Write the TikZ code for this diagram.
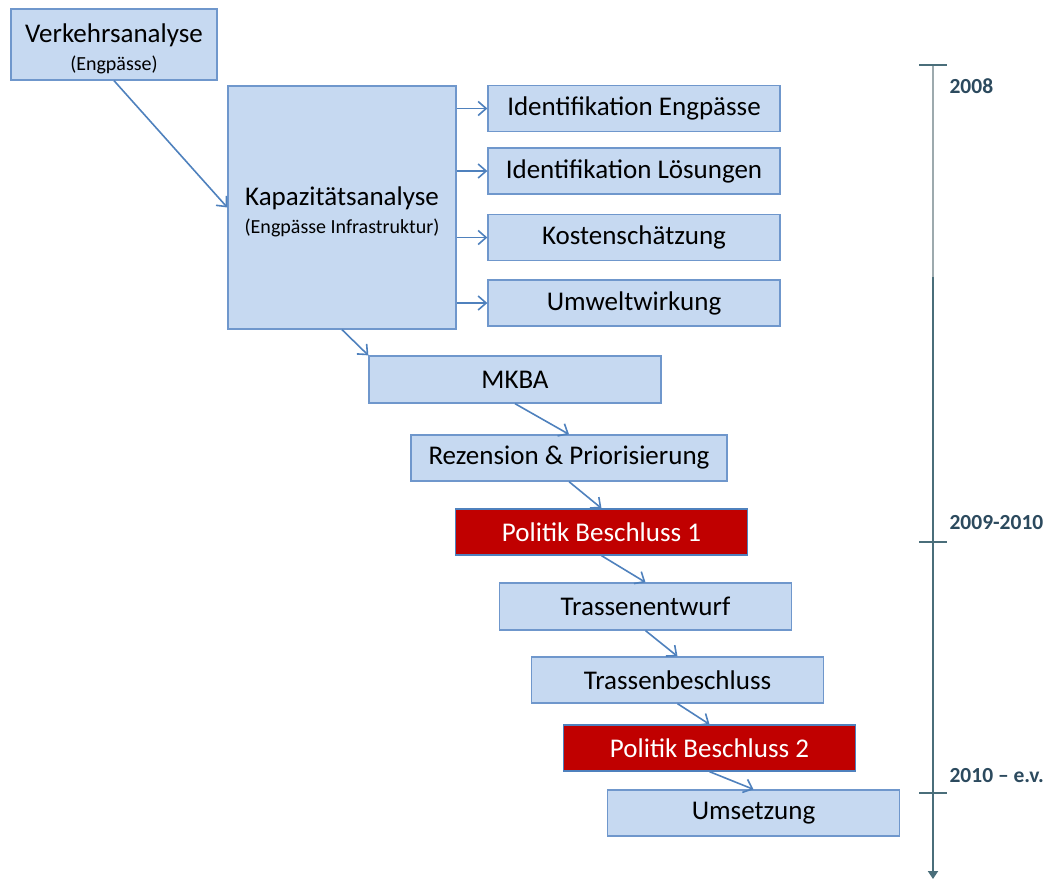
\documentclass[tikz,border=0pt]{standalone}
\usepackage{fontspec}
\setmainfont{Carlito}
\usetikzlibrary{arrows.meta}
\definecolor{boxfill}{HTML}{C6D9F1}
\definecolor{boxline}{HTML}{6F97CC}
\definecolor{arrowblue}{HTML}{4F81BD}
\definecolor{redfill}{HTML}{C00000}
\definecolor{timeline}{HTML}{4A6E7A}
\definecolor{timelight}{HTML}{9DAAAE}
\definecolor{yeartext}{HTML}{2C4A5E}
\tikzset{
  box/.style={draw=boxline, fill=boxfill, line width=1.3pt, inner sep=0pt,
    minimum width=292pt, minimum height=46pt, align=center,
    font=\fontsize{27}{31}\selectfont},
  redbox/.style={box, draw=arrowblue, fill=redfill, text=white},
  year/.style={anchor=west, text=yeartext, font=\fontsize{21.5}{24}\selectfont\bfseries},
}
\newcommand{\subtext}[1]{{\fontsize{20}{22}\selectfont #1}}

\begin{document}
\begin{tikzpicture}[x=1pt, y=-1pt, >={Straight Barb[length=8pt,width=14pt]}]
\useasboundingbox (0,0) rectangle (1051,880);

\node[box, minimum width=206pt, minimum height=71pt] (verkehr) at (114,44.5)
  {\rule{0pt}{28pt}Verkehrsanalyse\\[-3pt]\subtext{(Engpässe)}};
\node[box, minimum width=228pt, minimum height=243pt] (kap) at (342,207.5)
  {\rule{0pt}{28pt}Kapazitätsanalyse\\[-3pt]\subtext{(Engpässe Infrastruktur)}};

\node[box] (ideng) at (634,108.5) {Identifikation Engpässe};
\node[box] (idloes) at (634,171) {Identifikation Lösungen};
\node[box] (kosten) at (634,237.5) {Kostenschätzung};
\node[box] (umwelt) at (634,303) {Umweltwirkung};

\node[box, minimum height=47pt] (mkba) at (515,379.5) {MKBA};
\node[box, minimum width=316pt] (rez) at (569,458) {Rezension \& Priorisierung};
\node[redbox] (pb1) at (601.5,532) {Politik Beschluss 1};
\node[box, minimum height=47pt] (entwurf) at (645.5,606.5) {Trassenentwurf};
\node[box] (tbeschl) at (677.5,680) {Trassenbeschluss};
\node[redbox] (pb2) at (709.5,748) {Politik Beschluss 2};
\node[box] (umsetz) at (753.5,813) {Umsetzung};

% Pfeile
\begin{scope}[draw=arrowblue, line width=1.6pt]
\draw[->] (verkehr.south) -- (kap.west);
\foreach \n in {ideng,idloes,kosten,umwelt}
  \draw[->] (kap.east |- \n.west) -- (\n.west);
\draw[->] (kap.south) -- (mkba.north west);
\draw[->] (mkba.south) -- (rez.north);
\draw[->] (rez.south) -- (pb1.north);
\draw[->] (pb1.south) -- (entwurf.north);
\draw[->] (entwurf.south) -- (tbeschl.north);
\draw[->] (tbeschl.south) -- (pb2.north);
\draw[->] (pb2.south) -- (umsetz.north);
\end{scope}

% Zeitachse
\coordinate (t0) at (933,65);
\coordinate (tm) at (933,277);
\coordinate (t1) at (933,542);
\coordinate (t2) at (933,793);
\coordinate (tend) at (933,879);
\draw[timelight, line width=2.5pt] (t0) -- (tm);
\draw[timeline, line width=2.5pt, -{Triangle[length=8pt,width=10pt]}] (tm) -- (tend);
\foreach \t in {t0,t1,t2}
  \draw[timeline, line width=1.5pt] ([xshift=-14pt]\t) -- ([xshift=14pt]\t);
\node[year] (y0) at (946,86) {2008};
\node[year] (y1) at (946,523) {2009-2010};
\node[year] (y2) at (946,776) {2010 – e.v.};

\end{tikzpicture}
\end{document}
